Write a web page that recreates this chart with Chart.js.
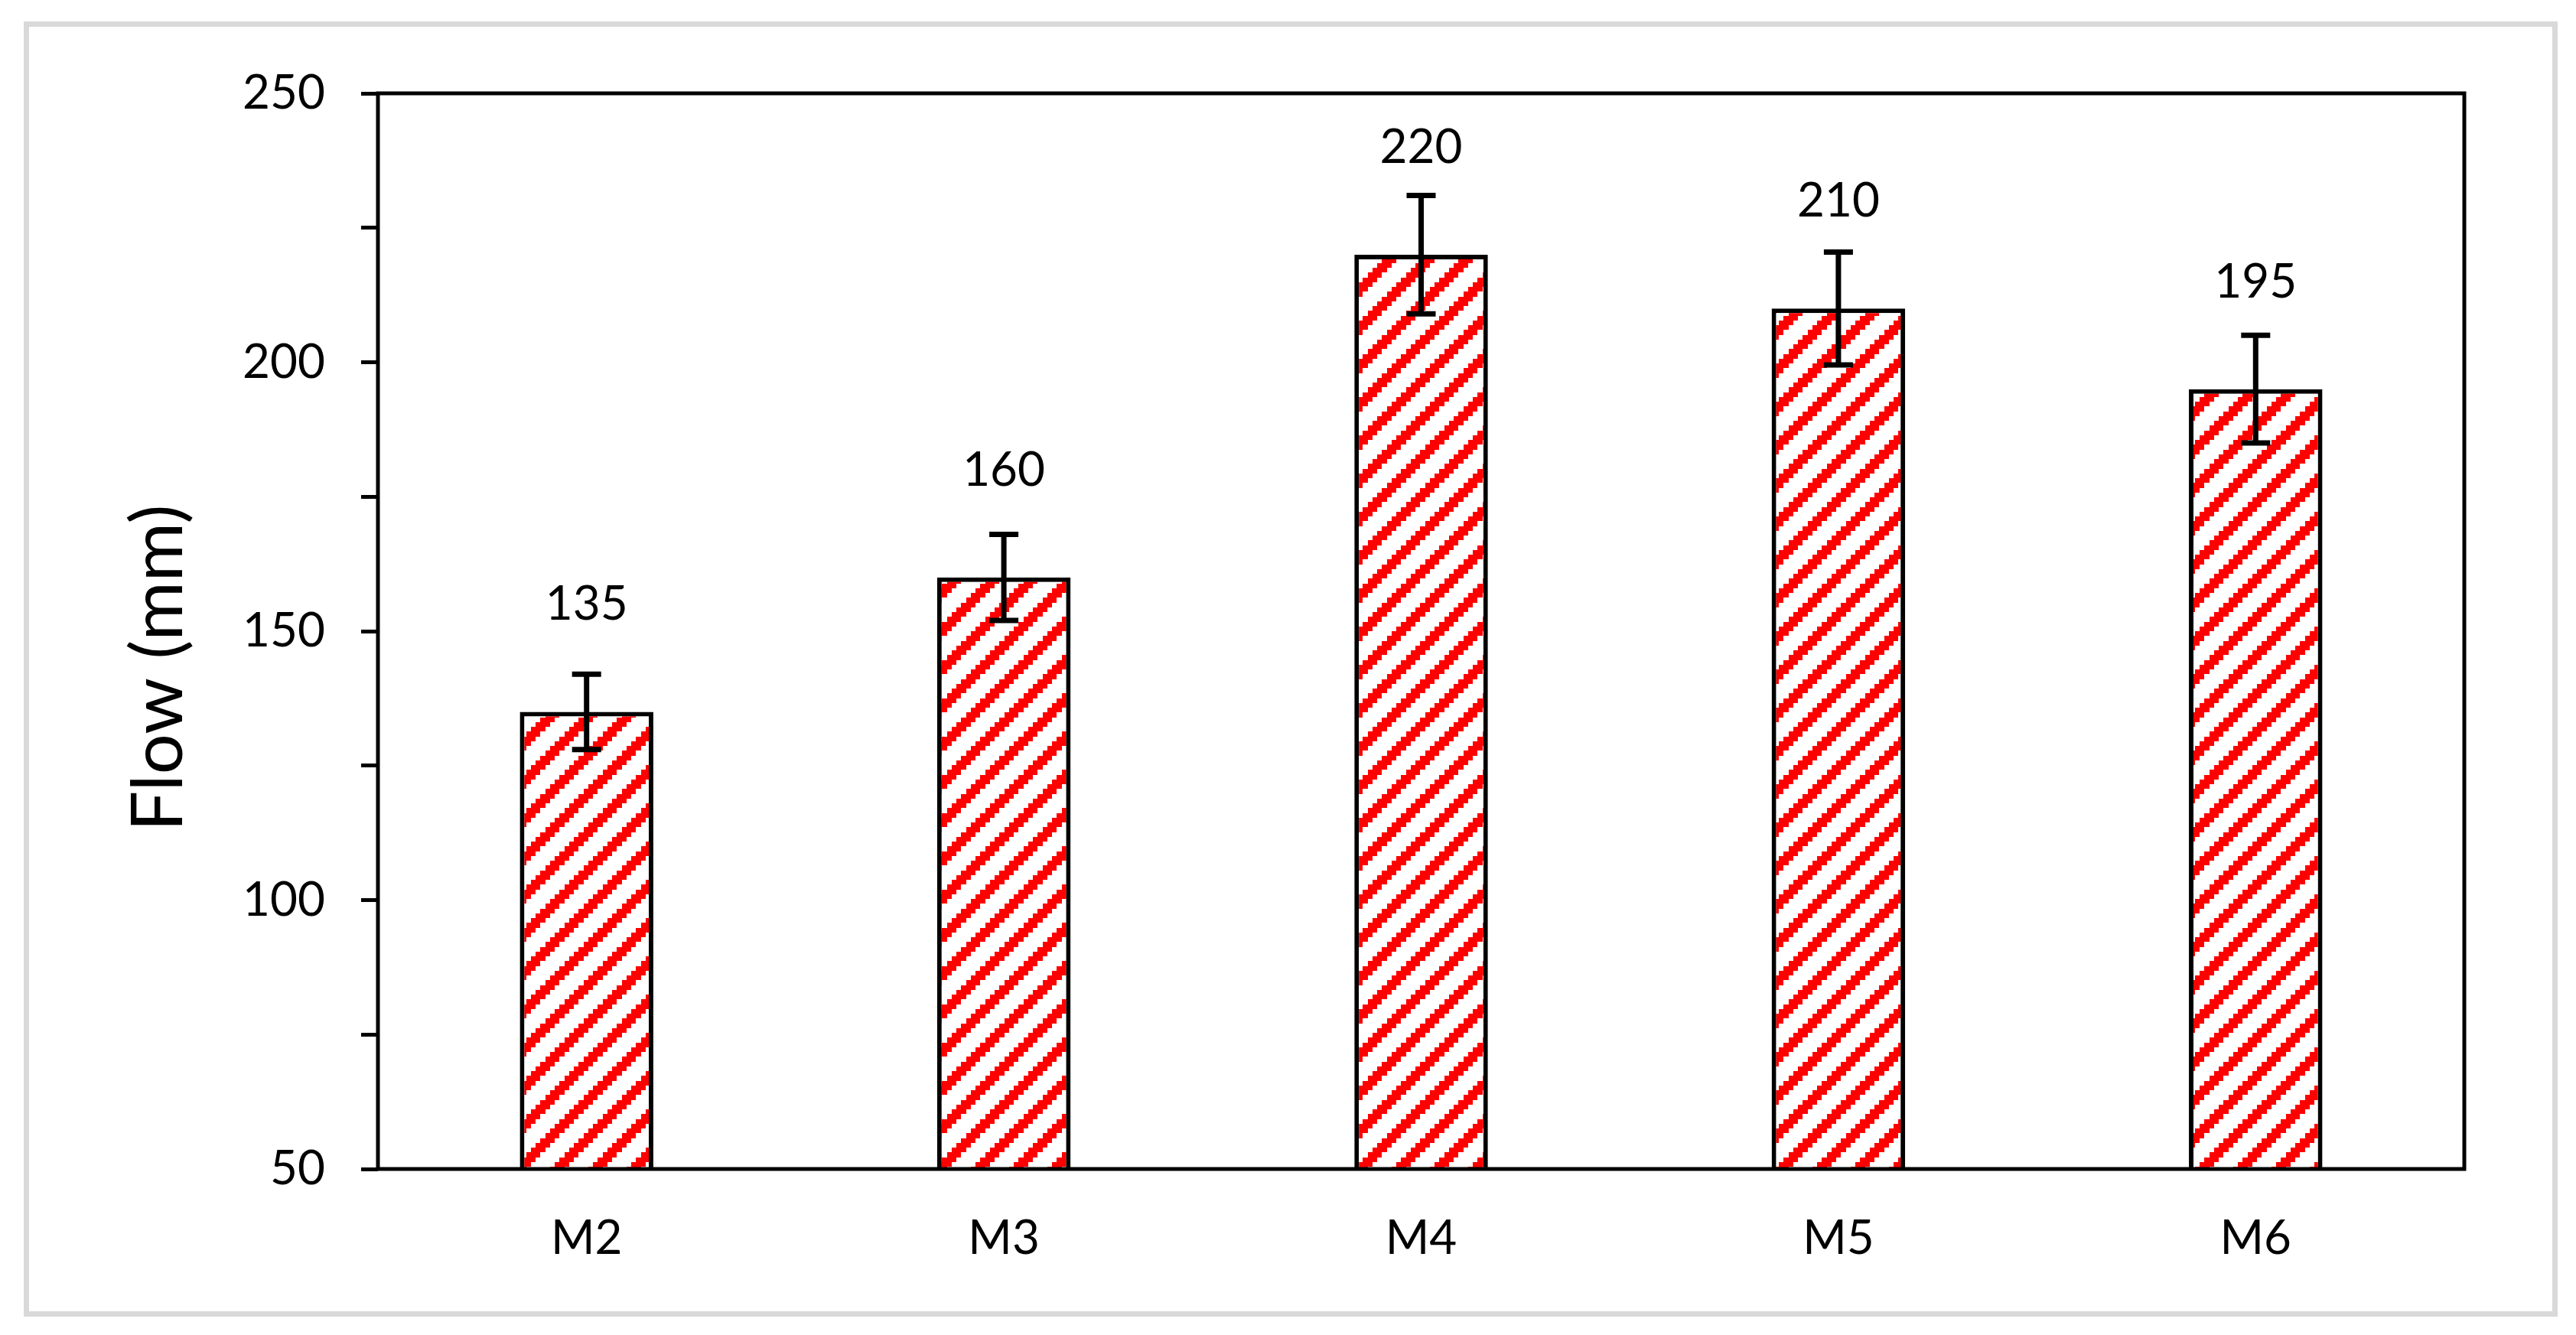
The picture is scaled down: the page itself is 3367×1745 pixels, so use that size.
<!DOCTYPE html>
<html>
<head>
<meta charset="utf-8">
<script src="https://cdn.jsdelivr.net/npm/chart.js@4/dist/chart.umd.min.js"></script>
<style>
    html, body { margin: 0; padding: 0; background: #fff; overflow: hidden; }
    canvas { display: block; }
</style>
</head>
<body>
<canvas id="flowChart" width="3367" height="1745"></canvas>
<script>
// values
const mixes = ['M2', 'M3', 'M4', 'M5', 'M6'];
const flowValues = [135, 160, 220, 210, 195];
const flowErrors = [7, 8, 11, 10.5, 10];
const yTickValues = [50, 100, 150, 200, 250];

const fontFamily = 'Lato, "Open Sans", sans-serif';

// red "wide upward diagonal" fill, built as a small tile like the office pattern
function buildHatch() {
    const size = 50;
    const cell = size / 8;
    const tile = document.createElement('canvas');
    tile.width = size;
    tile.height = size;
    const t = tile.getContext('2d');
    t.fillStyle = '#ffffff';
    t.fillRect(0, 0, size, size);
    t.fillStyle = '#ff0000';
    for (let r = 0; r < 8; r++) {
        for (let k = 0; k < 3; k++) {
            const c = (7 - r + k) % 8;
            const x0 = Math.round(c * cell), x1 = Math.round((c + 1) * cell);
            const y0 = Math.round(r * cell), y1 = Math.round((r + 1) * cell);
            t.fillRect(x0, y0, x1 - x0, y1 - y0);
        }
    }
    return t.createPattern(tile, 'repeat');
}

// grey outer box, the plot frame, error bars and value labels
const decorations = {
    id: 'decorations',
    beforeDraw(chart) {
        const ctx = chart.ctx;
        ctx.save();
        ctx.strokeStyle = '#d9d9d9';
        ctx.lineWidth = 7;
        ctx.strokeRect(34.5, 31.5, 3305, 1686);
        ctx.restore();
    },
    afterDatasetsDraw(chart) {
        const ctx = chart.ctx;
        const area = chart.chartArea;
        const yScale = chart.scales.y;
        const bars = chart.getDatasetMeta(0).data;

        ctx.save();
        ctx.strokeStyle = '#000';
        ctx.lineWidth = 5;
        ctx.strokeRect(area.left, area.top, area.right - area.left, area.bottom - area.top);

        // error bars
        ctx.lineWidth = 7;
        bars.forEach((bar, i) => {
            const top = yScale.getPixelForValue(flowValues[i] + flowErrors[i]);
            const bottom = yScale.getPixelForValue(flowValues[i] - flowErrors[i]);
            const capHalf = 19;
            ctx.beginPath();
            ctx.moveTo(bar.x, top);
            ctx.lineTo(bar.x, bottom);
            ctx.moveTo(bar.x - capHalf, top);
            ctx.lineTo(bar.x + capHalf, top);
            ctx.moveTo(bar.x - capHalf, bottom);
            ctx.lineTo(bar.x + capHalf, bottom);
            ctx.stroke();
        });

        // value labels above each bar
        ctx.fillStyle = '#000';
        ctx.font = '62px ' + fontFamily;
        ctx.textAlign = 'center';
        ctx.textBaseline = 'middle';
        bars.forEach((bar, i) => {
            ctx.fillText(String(flowValues[i]), bar.x, bar.y - 140);
        });
        ctx.restore();
    }
};

const chart = new Chart(document.getElementById('flowChart').getContext('2d'), {
    type: 'bar',
    data: {
        labels: mixes,
        datasets: [{
            label: 'Flow',
            data: flowValues,
            backgroundColor: buildHatch(),
            borderColor: '#000',
            borderWidth: 6,
            borderSkipped: false,
            barPercentage: 0.32,
            categoryPercentage: 1.0,
        }],
    },
    options: {
        responsive: false,
        devicePixelRatio: 1,
        animation: false,
        layout: {
            padding: { top: 122, right: 146, left: 140, bottom: 0 },
        },
        scales: {
            x: {
                grid: { display: false },
                border: { display: false },
                ticks: {
                    color: '#000',
                    font: { family: fontFamily, size: 62 },
                    padding: 46,
                },
                afterFit: (scale) => { scale.height = 217; },
            },
            y: {
                min: yTickValues[0],
                max: yTickValues[yTickValues.length - 1],
                border: { display: false },
                grid: {
                    drawOnChartArea: false,
                    drawTicks: true,
                    tickLength: 22,
                    tickColor: '#000',
                    tickWidth: 5,
                },
                ticks: {
                    stepSize: 25, // minor ticks every 25, labels only on the major ones
                    autoSkip: false,
                    color: '#000',
                    font: { family: fontFamily, size: 62 },
                    padding: 47,
                    callback: (v) => (yTickValues.includes(v) ? v : ''),
                },
                title: {
                    display: true,
                    // trailing spaces nudge the title a little below the middle, as in the original
                    text: 'Flow (mm)\u00a0\u00a0\u00a0\u00a0',
                    color: '#000',
                    font: { family: fontFamily, size: 94 },
                    padding: { top: 11, bottom: 0 },
                },
                afterFit: (scale) => { scale.width = 354; },
            },
        },
        plugins: {
            legend: { display: false },
            tooltip: { enabled: false },
        },
    },
    plugins: [decorations],
});
</script>
</body>
</html>
